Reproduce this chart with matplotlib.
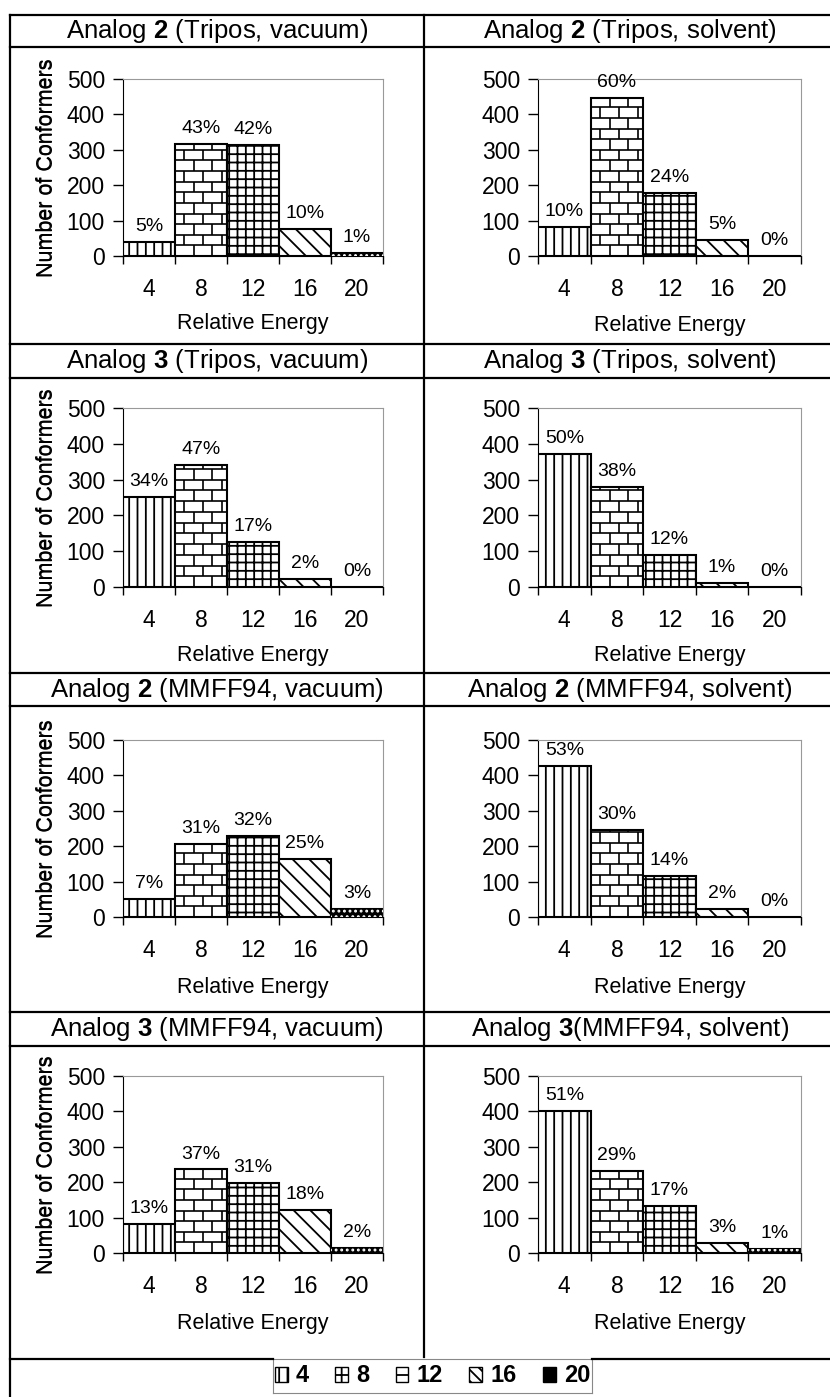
import matplotlib
matplotlib.use("Agg")
import matplotlib.pyplot as plt
from matplotlib.lines import Line2D
from matplotlib.patches import Patch
from matplotlib.collections import LineCollection

plt.rcParams['font.family'] = ['Liberation Sans', 'DejaVu Sans']
plt.rcParams['mathtext.fontset'] = 'custom'
plt.rcParams['mathtext.rm'] = 'Liberation Sans'
plt.rcParams['mathtext.bf'] = 'Liberation Sans:bold'
plt.rcParams['hatch.linewidth'] = 1.3

# relative energy bins
energy = [4, 8, 12, 16, 20]

# conformer counts, plus the printed percentages
a2_tripos_vac = [40, 316, 313, 77, 9]
a2_tripos_vac_pct = ["5%", "43%", "42%", "10%", "1%"]
a2_tripos_solv = [82, 447, 179, 44, 0]
a2_tripos_solv_pct = ["10%", "60%", "24%", "5%", "0%"]
a3_tripos_vac = [251, 341, 126, 22, 0]
a3_tripos_vac_pct = ["34%", "47%", "17%", "2%", "0%"]
a3_tripos_solv = [372, 280, 90, 11, 0]
a3_tripos_solv_pct = ["50%", "38%", "12%", "1%", "0%"]
a2_mmff_vac = [52, 205, 228, 165, 22]
a2_mmff_vac_pct = ["7%", "31%", "32%", "25%", "3%"]
a2_mmff_solv = [427, 246, 117, 22, 0]
a2_mmff_solv_pct = ["53%", "30%", "14%", "2%", "0%"]
a3_mmff_vac = [83, 236, 199, 121, 14]
a3_mmff_vac_pct = ["13%", "37%", "31%", "18%", "2%"]
a3_mmff_solv = [401, 232, 133, 28, 11]
a3_mmff_solv_pct = ["51%", "29%", "17%", "3%", "1%"]

titles = [r"Analog $\mathbf{2}$ (Tripos, vacuum)", r"Analog $\mathbf{2}$ (Tripos, solvent)",
          r"Analog $\mathbf{3}$ (Tripos, vacuum)", r"Analog $\mathbf{3}$ (Tripos, solvent)",
          r"Analog $\mathbf{2}$ (MMFF94, vacuum)", r"Analog $\mathbf{2}$ (MMFF94, solvent)",
          r"Analog $\mathbf{3}$ (MMFF94, vacuum)", r"Analog $\mathbf{3}$(MMFF94, solvent)"]
counts = [a2_tripos_vac, a2_tripos_solv, a3_tripos_vac, a3_tripos_solv,
          a2_mmff_vac, a2_mmff_solv, a3_mmff_vac, a3_mmff_solv]
pcts = [a2_tripos_vac_pct, a2_tripos_solv_pct, a3_tripos_vac_pct, a3_tripos_solv_pct,
        a2_mmff_vac_pct, a2_mmff_solv_pct, a3_mmff_vac_pct, a3_mmff_solv_pct]

W, H = 830, 1397
fig = plt.figure(figsize=(W / 100, H / 100), dpi=100)


def box(x0, y0, x1, y1):
    return [x0 / W, 1 - y1 / H, (x1 - x0) / W, (y1 - y0) / H]


def line(x0, y0, x1, y1, color='black', lw=1.6):
    fig.add_artist(Line2D([x0 / W, x1 / W], [1 - y0 / H, 1 - y1 / H], color=color, lw=lw))


def add_bricks(ax, bar, row_h=30, brick_w=0.36):
    x0 = bar.get_x()
    x1 = x0 + bar.get_width()
    top = bar.get_height()
    segs = []
    y, k = 0.0, 0
    while y < top:
        segs.append([(x0, y), (x1, y)])
        x = x0 + (brick_w / 2) * (k % 2)
        while x < x1:
            segs.append([(x, y), (x, min(y + row_h, top))])
            x += brick_w
        y += row_h
        k += 1
    lc = LineCollection(segs, colors='black', linewidths=1.2)
    ax.add_collection(lc)
    lc.set_clip_path(bar)


# table grid
row_lines = [(15, 47), (344, 378), (673, 706), (1012, 1046)]
for top, bot in row_lines:
    line(10, top, 830, top)
    line(10, bot, 830, bot)
line(10, 15, 10, 1397)
line(424, 15, 424, 1357)
line(10, 1359, 273, 1359)
line(592, 1359, 830, 1359)

ax_x = [(123, 383), (538, 801)]
ax_y = [(79, 256), (408, 587), (740, 917), (1076, 1253)]
xlab_off = [[67, 70], [69, 69], [70, 70], [70, 70]]

hatches = ['||', None, '++', '\\\\', None]

for n in range(8):
    r, c = divmod(n, 2)
    title_y = sum(row_lines[r]) / 2
    title_x = 217 if c == 0 else 630
    fig.text(title_x / W, 1 - title_y / H, titles[n], ha='center', va='center', fontsize=18.5)

    x0, x1 = ax_x[c]
    y0, y1 = ax_y[r]
    ax = fig.add_axes(box(x0, y0, x1, y1))
    bars = ax.bar(range(5), counts[n], width=1.0, color='white', edgecolor='black', lw=1.5, zorder=2)
    for i, b in enumerate(bars):
        if hatches[i]:
            b.set_hatch(hatches[i])
    add_bricks(ax, bars[1])
    bars[4].set_facecolor('black')
    ax.bar([4], [counts[n][4]], width=1.0, color='none', edgecolor='white', lw=0, hatch='...', zorder=3)

    for i, p in enumerate(pcts[n]):
        ax.annotate(p, (i, counts[n][i]), xytext=(0, 5), textcoords='offset points',
                    ha='center', va='bottom', fontsize=14)

    ax.set_xlim(-0.5, 4.5)
    ax.set_ylim(0, 500)
    ax.set_yticks(range(0, 501, 100))
    ax.set_xticks([k - 0.5 for k in range(6)])
    ax.set_xticklabels([])
    ax.set_xticks(range(5), minor=True)
    ax.set_xticklabels(energy, minor=True)
    ax.tick_params(axis='x', which='major', length=6, width=1, direction='out')
    ax.tick_params(axis='x', which='minor', length=0, pad=16, labelsize=16.5)
    ax.tick_params(axis='y', length=7, width=1, direction='out', pad=6, labelsize=16.5)
    for s in ['top', 'right']:
        ax.spines[s].set_color('#999999')
    for s in ['left', 'bottom']:
        ax.spines[s].set_color('black')

    ax.set_ylabel('Number of Conformers', fontsize=15.5)
    ax.yaxis.label.set_va('center')
    ax.yaxis.set_label_coords((47 - x0) / (x1 - x0), 0.5)
    ax.set_xlabel('Relative Energy', fontsize=15.5)
    ax.xaxis.label.set_va('center')
    ax.xaxis.set_label_coords(0.5, -xlab_off[r][c] / (y1 - y0))

# legend row
lax = fig.add_axes(box(273, 1359, 592, 1393))
lax.set_xticks([])
lax.set_yticks([])
for s in lax.spines.values():
    s.set_color('#888888')
handles = [Patch(facecolor='white', edgecolor='black', hatch='||'),
           Patch(facecolor='white', edgecolor='black', hatch='+'),
           Patch(facecolor='white', edgecolor='black', hatch='-'),
           Patch(facecolor='white', edgecolor='black', hatch='\\\\\\'),
           Patch(facecolor='black', edgecolor='black')]
lax.legend(handles, [str(e) for e in energy], ncol=5, loc='center', frameon=False,
           handlelength=0.55, handleheight=0.6, handletextpad=0.35, columnspacing=1.1,
           borderpad=0.2, prop={'weight': 'bold', 'size': 17})

fig.savefig('out.png', dpi=100)
